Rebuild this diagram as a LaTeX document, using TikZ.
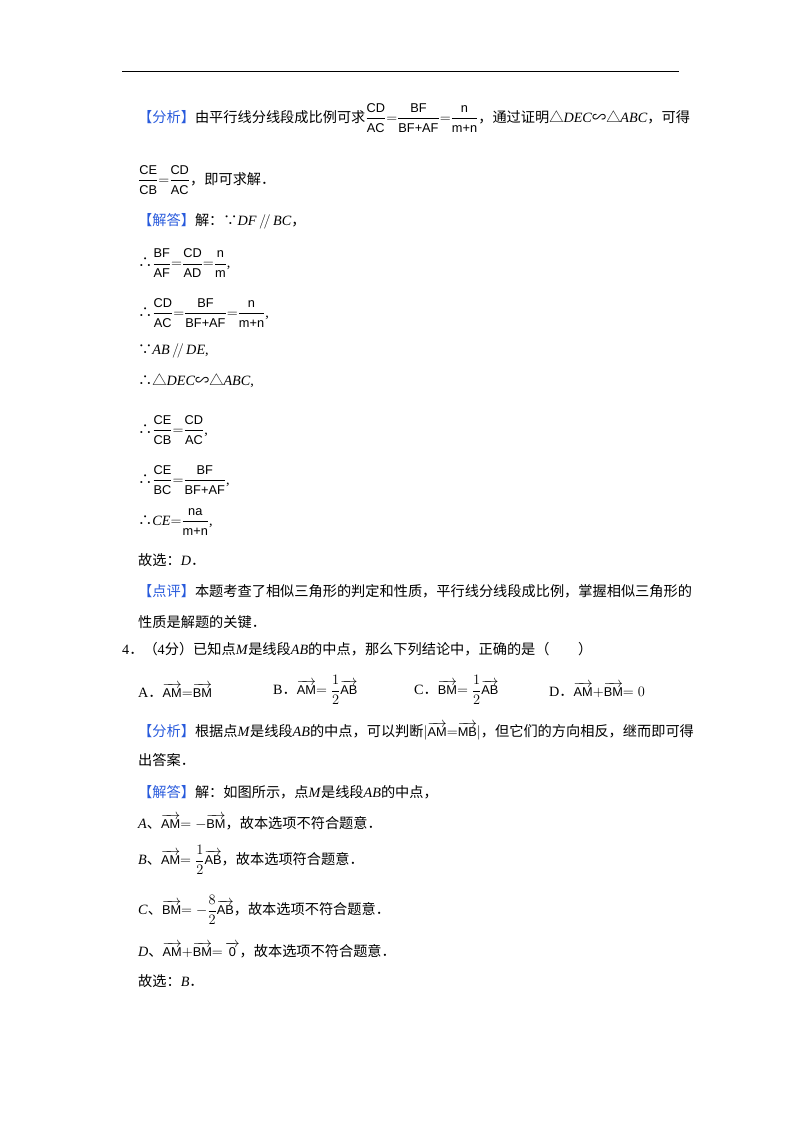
\documentclass[tikz,border=0pt]{standalone}
\usepackage{amsmath}
\usepackage{fontspec}
\setmainfont{Liberation Serif}
\newfontfamily\cjk{Noto Sans CJK SC}
\newfontfamily\fsf{Liberation Sans}[Scale=0.9]
\definecolor{hd}{RGB}{40,90,220}
\newcommand{\zh}[1]{{\cjk #1}}
\newcommand{\hd}[1]{{\cjk\color{hd}【#1】}}
\newcommand{\ft}[1]{\hbox{\fsf #1}}
\newcommand{\fr}[2]{$\dfrac{\ft{#1}}{\ft{#2}}$}
\newcommand{\vc}[1]{$\overrightarrow{\ft{#1}}$}
\newcommand{\so}{{\cjk ∴}}
\newcommand{\bc}{{\cjk ∵}}
\begin{document}
\begin{tikzpicture}[x=1pt,y=-1pt,txt/.style={anchor=west,inner sep=0pt,font=\fontsize{14.2}{16}\selectfont}]
\useasboundingbox (0,0) rectangle (800,1132);
\draw[line width=1pt] (122,72) -- (679,72);
\node[txt] (l1) at (138,118) {\hd{分析}\zh{由平行线分线段成比例可求}\fr{CD}{AC}$=$\fr{BF}{BF+AF}$=$\fr{n}{m+n}\zh{，通过证明}{\cjk △}\textit{DEC}{\cjk ∽△}\textit{ABC}\zh{，可得}};
\node[txt] (l2) at (138,180) {\fr{CE}{CB}$=$\fr{CD}{AC}\zh{，即可求解．}};
\node[txt] (l3) at (138,221) {\hd{解答}\zh{解：}\bc\textit{DF}$\,/\!/\,$\textit{BC}\zh{，}};
\node[txt] (l4) at (138,263) {\so\fr{BF}{AF}$=$\fr{CD}{AD}$=$\fr{n}{m},};
\node[txt] (l5) at (138,313) {\so\fr{CD}{AC}$=$\fr{BF}{BF+AF}$=$\fr{n}{m+n},};
\node[txt] (l6) at (138,351) {\bc\textit{AB}$\,/\!/\,$\textit{DE},};
\node[txt] (l7) at (138,381) {\so{\cjk △}\textit{DEC}{\cjk ∽△}\textit{ABC},};
\node[txt] (l8) at (138,430) {\so\fr{CE}{CB}$=$\fr{CD}{AC},};
\node[txt] (l9) at (138,480) {\so\fr{CE}{BC}$=$\fr{BF}{BF+AF},};
\node[txt] (l10) at (138,522) {\so\textit{CE}$=$\fr{na}{m+n},};
\node[txt] (l11) at (138,560) {\zh{故选：}\textit{D}\zh{．}};
\node[txt] (l12) at (138,591) {\hd{点评}\zh{本题考查了相似三角形的判定和性质，平行线分线段成比例，掌握相似三角形的}};
\node[txt] (l13) at (138,622) {\zh{性质是解题的关键．}};
\node[txt] (l14) at (122,649) {4\zh{．（}4\zh{分）已知点}\textit{M}\zh{是线段}\textit{AB}\zh{的中点，那么下列结论中，正确的是（　　）}};
\node[txt] (oA) at (138,690) {A\zh{．}\vc{AM}$=$\vc{BM}};
\node[txt] (oB) at (273,690) {B\zh{．}\vc{AM}$=\dfrac{1}{2}$\vc{AB}};
\node[txt] (oC) at (414,690) {C\zh{．}\vc{BM}$=\dfrac{1}{2}$\vc{AB}};
\node[txt] (oD) at (549,690) {D\zh{．}\vc{AM}$+$\vc{BM}$=0$};
\node[txt] (l15) at (138,731) {\hd{分析}\zh{根据点}\textit{M}\zh{是线段}\textit{AB}\zh{的中点，可以判断}$|$\vc{AM}$=$\vc{MB}$|$\zh{，但它们的方向相反，继而即可得}};
\node[txt] (l16) at (138,760) {\zh{出答案．}};
\node[txt] (l17) at (138,792) {\hd{解答}\zh{解：如图所示，点}\textit{M}\zh{是线段}\textit{AB}\zh{的中点，}};
\node[txt] (l18) at (138,822) {\textit{A}\zh{、}\vc{AM}$=-$\vc{BM}\zh{，故本选项不符合题意．}};
\node[txt] (l19) at (138,860) {\textit{B}\zh{、}\vc{AM}$=\dfrac{1}{2}$\vc{AB}\zh{，故本选项符合题意．}};
\node[txt] (l20) at (138,910) {\textit{C}\zh{、}\vc{BM}$=-\dfrac{8}{2}$\vc{AB}\zh{，故本选项不符合题意．}};
\node[txt] (l21) at (138,950) {\textit{D}\zh{、}\vc{AM}$+$\vc{BM}$=$\,\vc{0}\zh{，故本选项不符合题意．}};
\node[txt] (l22) at (138,981) {\zh{故选：}\textit{B}\zh{．}};
\end{tikzpicture}
\end{document}
